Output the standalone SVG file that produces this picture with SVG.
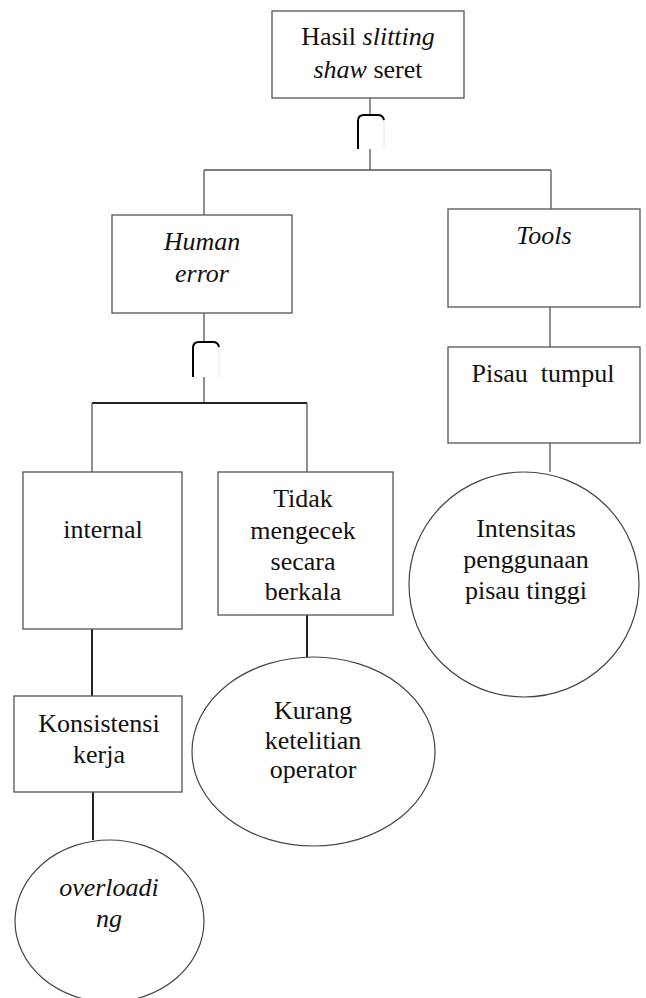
<svg xmlns="http://www.w3.org/2000/svg" width="646" height="998" viewBox="0 0 646 998">
  <style>
    .box { fill: #fff; stroke: #555; stroke-width: 1.3; }
    .ell { fill: #fff; stroke: #444; stroke-width: 1.2; }
    .ln { stroke: #555; stroke-width: 1.3; fill: none; }
    .lnd { stroke: #222; stroke-width: 2; fill: none; }
    .gate { stroke: #000; stroke-width: 2; fill: none; }
    .gate-r { stroke: #e4e4e4; stroke-width: 1; fill: none; }
    .lbl { fill: #111; }
  </style>
  <rect width="646" height="998" fill="#fff"/>

  <!-- connectors -->
  <g id="connectors">
    <line class="ln" x1="370" y1="98" x2="370" y2="115"/>
    <line class="ln" x1="370" y1="149" x2="370" y2="170"/>
    <line class="ln" x1="204" y1="170" x2="551" y2="170"/>
    <line class="ln" x1="204" y1="170" x2="204" y2="215"/>
    <line class="ln" x1="551" y1="170" x2="551" y2="209"/>
    <line class="ln" x1="204" y1="313" x2="204" y2="342"/>
    <line class="ln" x1="204" y1="377" x2="204" y2="403"/>
    <line class="lnd" x1="92" y1="403" x2="307" y2="403"/>
    <line class="ln" x1="92" y1="403" x2="92" y2="472"/>
    <line class="ln" x1="307" y1="403" x2="307" y2="472"/>
    <line class="ln" x1="550" y1="307" x2="550" y2="347"/>
    <line class="ln" x1="550" y1="443" x2="550" y2="472"/>
    <line class="lnd" x1="92" y1="629" x2="92" y2="696"/>
    <line class="lnd" x1="93" y1="792" x2="93" y2="840"/>
    <line class="lnd" x1="307" y1="615" x2="307" y2="657"/>

    <!-- AND gates -->
    <g id="gate-top">
      <path class="gate-r" d="M378,115 Q384,115 384,121 V149"/>
      <path class="gate" d="M358,149 V121 Q358,115 364,115 H378 Q383,115 384,120"/>
    </g>
    <g id="gate-human">
      <path class="gate-r" d="M213,342 Q219,342 219,348 V377"/>
      <path class="gate" d="M193,377 V348 Q193,342 199,342 H213 Q218,342 219,347"/>
    </g>
  </g>

  <g id="hasil">
    <rect class="box" x="272" y="11" width="192" height="87"/>
    <text class="lbl" font-size="26" font-family="Liberation Serif" text-anchor="middle" x="368" y="45">Hasil <tspan font-style="italic">slitting</tspan></text>
    <text class="lbl" font-size="26" font-family="Liberation Serif" text-anchor="middle" x="368" y="78"><tspan font-style="italic">shaw</tspan> seret</text>
  </g>

  <g id="human-error">
    <rect class="box" x="112" y="215" width="180" height="98"/>
    <text class="lbl" font-size="26" font-family="Liberation Serif" font-style="italic" text-anchor="middle" x="202" y="250">Human</text>
    <text class="lbl" font-size="26" font-family="Liberation Serif" font-style="italic" text-anchor="middle" x="202" y="282">error</text>
  </g>

  <g id="tools">
    <rect class="box" x="448" y="209" width="192" height="98"/>
    <text class="lbl" font-size="26" font-family="Liberation Serif" font-style="italic" text-anchor="middle" x="544" y="244">Tools</text>
  </g>

  <g id="pisau-tumpul">
    <rect class="box" x="448" y="347" width="192" height="96"/>
    <text class="lbl" font-size="26" font-family="Liberation Serif" text-anchor="middle" x="543" y="382">Pisau&#160; tumpul</text>
  </g>

  <g id="intensitas">
    <ellipse class="ell" cx="524" cy="584.5" rx="115" ry="112.5"/>
    <text class="lbl" font-size="26" font-family="Liberation Serif" text-anchor="middle" x="526" y="537">Intensitas</text>
    <text class="lbl" font-size="26" font-family="Liberation Serif" text-anchor="middle" x="526" y="568">penggunaan</text>
    <text class="lbl" font-size="26" font-family="Liberation Serif" text-anchor="middle" x="526" y="599">pisau tinggi</text>
  </g>

  <g id="internal">
    <rect class="box" x="23" y="472" width="159" height="157"/>
    <text class="lbl" font-size="26" font-family="Liberation Serif" text-anchor="middle" x="103" y="538">internal</text>
  </g>

  <g id="tidak-mengecek">
    <rect class="box" x="218" y="472" width="175" height="143"/>
    <text class="lbl" font-size="26" font-family="Liberation Serif" text-anchor="middle" x="303" y="507">Tidak</text>
    <text class="lbl" font-size="26" font-family="Liberation Serif" text-anchor="middle" x="303" y="539">mengecek</text>
    <text class="lbl" font-size="26" font-family="Liberation Serif" text-anchor="middle" x="303" y="570">secara</text>
    <text class="lbl" font-size="26" font-family="Liberation Serif" text-anchor="middle" x="303" y="600">berkala</text>
  </g>

  <g id="konsistensi">
    <rect class="box" x="14" y="696" width="168" height="96"/>
    <text class="lbl" font-size="26" font-family="Liberation Serif" text-anchor="middle" x="99" y="732">Konsistensi</text>
    <text class="lbl" font-size="26" font-family="Liberation Serif" text-anchor="middle" x="99" y="763">kerja</text>
  </g>

  <g id="kurang-ketelitian">
    <ellipse class="ell" cx="313.5" cy="751.5" rx="121.5" ry="94.5"/>
    <text class="lbl" font-size="26" font-family="Liberation Serif" text-anchor="middle" x="313" y="719">Kurang</text>
    <text class="lbl" font-size="26" font-family="Liberation Serif" text-anchor="middle" x="313" y="749">ketelitian</text>
    <text class="lbl" font-size="26" font-family="Liberation Serif" text-anchor="middle" x="313" y="778">operator</text>
  </g>

  <g id="overloading">
    <ellipse class="ell" cx="109.5" cy="921" rx="94.5" ry="81"/>
    <text class="lbl" font-size="26" font-family="Liberation Serif" font-style="italic" text-anchor="middle" x="109" y="896">overloadi</text>
    <text class="lbl" font-size="26" font-family="Liberation Serif" font-style="italic" text-anchor="middle" x="109" y="927">ng</text>
  </g>
</svg>
